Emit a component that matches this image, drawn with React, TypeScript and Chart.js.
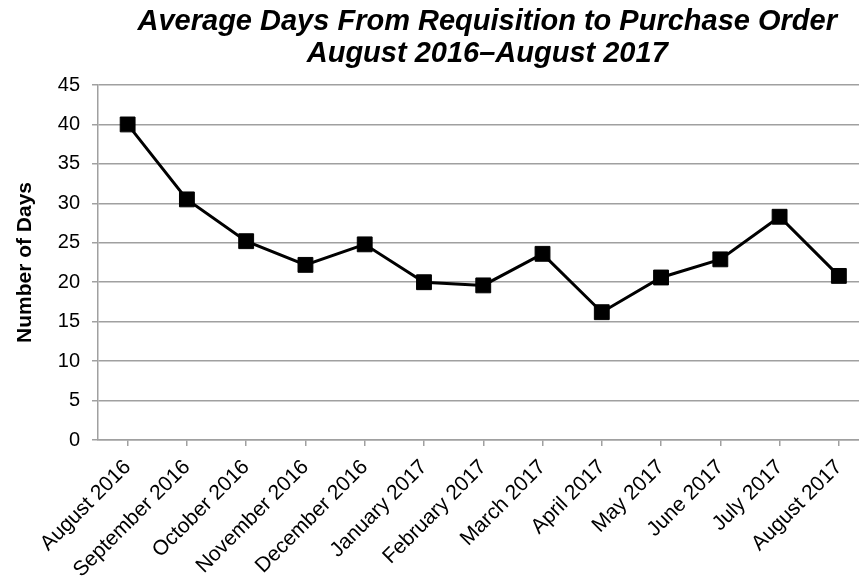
import React, { useEffect, useRef } from 'react';
import { Chart, registerables } from 'chart.js';

Chart.register(...registerables);

const categories = [
  'August 2016',
  'September 2016',
  'October 2016',
  'November 2016',
  'December 2016',
  'January 2017',
  'February 2017',
  'March 2017',
  'April 2017',
  'May 2017',
  'June 2017',
  'July 2017',
  'August 2017',
];

const avgDays = [40.0, 30.5, 25.2, 22.2, 24.8, 20.0, 19.6, 23.6, 16.2, 20.6, 22.9, 28.3, 20.8];

const yMin = 0;
const yMax = 45;
const yStep = 5;

const titleLines = ['Average Days From Requisition to Purchase Order', 'August 2016\u2013August 2017'];
const yAxisTitle = 'Number of Days';

const FONT = '"Liberation Sans", Arial, sans-serif';
const GRID = '#a0a0a0';

const titlePlugin = {
  id: 'twoLineTitle',
  afterDraw(chart: any) {
    const ctx = chart.ctx;
    const cx = (chart.chartArea.left + chart.chartArea.right) / 2 + 4;
    ctx.save();
    ctx.font = `italic bold 29px ${FONT}`;
    ctx.fillStyle = '#000';
    ctx.textAlign = 'center';
    ctx.textBaseline = 'alphabetic';
    ctx.fillText(titleLines[0], cx, 30);
    ctx.fillText(titleLines[1], cx, 62);
    ctx.restore();
  },
};

export default function App() {
  const canvasRef = useRef<HTMLCanvasElement | null>(null);

  useEffect(() => {
    if (!canvasRef.current) return;
    const chart = new Chart(canvasRef.current, {
      type: 'line',
      data: {
        labels: categories,
        datasets: [
          {
            label: 'Average Days',
            data: avgDays,
            borderColor: '#000',
            backgroundColor: '#000',
            borderWidth: 3,
            tension: 0,
            pointStyle: 'rect',
            pointRadius: 10.5,
            pointBorderWidth: 1,
            pointBackgroundColor: '#000',
            pointBorderColor: '#000',
          },
        ],
      },
      options: {
        animation: false,
        responsive: false,
        devicePixelRatio: 1,
        layout: { padding: { top: 85, right: 11, left: 0, bottom: 0 } },
        plugins: {
          legend: { display: false },
          title: { display: false },
          tooltip: { enabled: false },
        },
        scales: {
          x: {
            type: 'category',
            offset: true,
            grid: {
              display: true,
              drawOnChartArea: false,
              drawTicks: true,
              tickLength: 6,
              color: GRID,
              lineWidth: 1.5,
            },
            border: { display: true, color: GRID, width: 1.5 },
            ticks: {
              minRotation: 45,
              maxRotation: 45,
              autoSkip: false,
              padding: 9,
              color: '#000',
              font: { family: FONT, size: 21 },
            },
            afterFit: (scale: any) => {
              scale.height = 137;
            },
          },
          y: {
            min: yMin,
            max: yMax,
            ticks: {
              stepSize: yStep,
              padding: 12,
              color: '#000',
              font: { family: FONT, size: 20 },
            },
            grid: {
              color: GRID,
              lineWidth: 1.5,
              drawTicks: true,
              tickLength: 6,
            },
            border: { display: true, color: GRID, width: 1.5 },
            title: {
              display: true,
              text: yAxisTitle,
              color: '#000',
              font: { family: FONT, size: 21, weight: 'bold' },
              padding: { top: 13, bottom: 0 },
            },
            afterFit: (scale: any) => {
              scale.width = 98;
            },
          },
        },
      },
      plugins: [titlePlugin],
    });
    return () => chart.destroy();
  }, []);

  return (
    <div
      style={{
        position: 'fixed',
        left: 0,
        top: 0,
        width: 859,
        height: 577,
        overflow: 'hidden',
        background: '#fff',
      }}
    >
      <canvas ref={canvasRef} width={880} height={577} style={{ display: 'block' }} />
    </div>
  );
}
